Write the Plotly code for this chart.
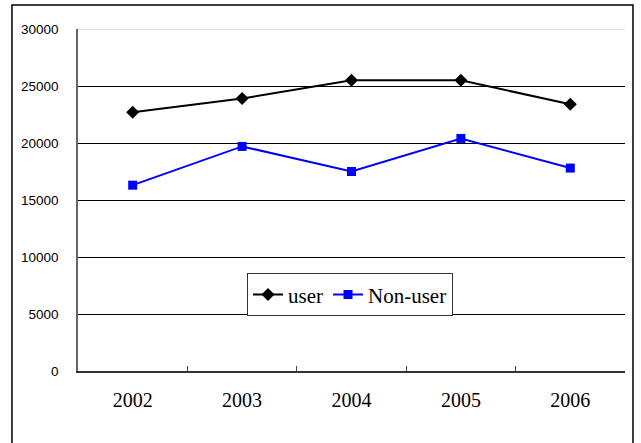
import plotly.graph_objects as go

years = ["2002", "2003", "2004", "2005", "2006"]
user = [22700, 23900, 25500, 25500, 23400]
non_user = [16300, 19700, 17500, 20400, 17800]
y_ticks = [0, 5000, 10000, 15000, 20000, 25000, 30000]
y_tick_text = [str(v) for v in y_ticks]

SERIF = "Liberation Serif, Times New Roman, serif"
SANS = "Liberation Sans, Arial, sans-serif"

fig = go.Figure()
fig.add_trace(go.Scatter(
    x=years, y=user, name="user", mode="lines+markers",
    line=dict(color="black", width=2),
    marker=dict(symbol="diamond", size=10, color="black"),
))
fig.add_trace(go.Scatter(
    x=years, y=non_user, name="Non-user", mode="lines+markers",
    line=dict(color="#0000FF", width=2),
    marker=dict(symbol="square", size=9, color="#0000FF"),
))

fig.update_layout(
    width=641, height=443,
    margin=dict(l=78, r=16, t=29, b=72),
    paper_bgcolor="white", plot_bgcolor="white",
    showlegend=True,
    legend=dict(
        orientation="h", x=0.309, y=0.2855, xanchor="left", yanchor="top",
        bgcolor="white", bordercolor="#333333", borderwidth=1,
        font=dict(family=SERIF, size=21, color="black"),
        itemwidth=30, tracegroupgap=0,
    ),
    xaxis=dict(
        type="category", tickson="boundaries", ticks="inside", ticklen=5,
        tickcolor="#444444", showline=True, linecolor="#333333", linewidth=1.5,
        showgrid=False, ticklabelstandoff=10,
        tickfont=dict(family=SERIF, size=20, color="black"),
        range=[-0.5, 4.5],
    ),
    yaxis=dict(
        range=[0, 30000], tickvals=y_ticks, ticktext=y_tick_text, ticks="",
        showline=True, linecolor="#666666", linewidth=1.5, showgrid=True,
        gridcolor="black", gridwidth=1, zeroline=False,
        ticklabelstandoff=15,
        tickfont=dict(family=SANS, size=13.5, color="black"),
    ),
    shapes=[
        # light top edge of the plot area
        dict(type="line", xref="paper", yref="y", x0=0, x1=1, y0=30000, y1=30000,
             line=dict(color="#d8d8d8", width=1.5), layer="above"),
        # outer frame around the chart
        dict(type="rect", xref="paper", yref="paper",
             x0=-0.1207, x1=1.0146, y0=-0.25, y1=1.0703,
             line=dict(color="black", width=1.5)),
    ],
)

fig.write_html("out.html")
